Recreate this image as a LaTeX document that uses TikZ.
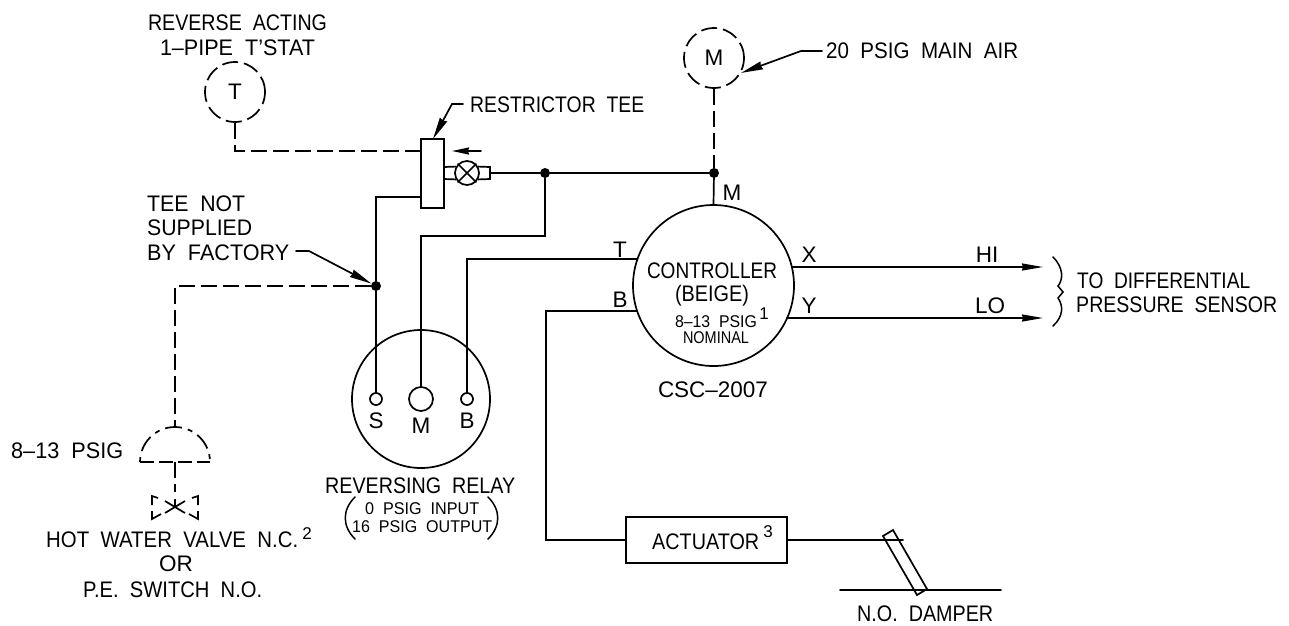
\documentclass[tikz,border=0pt]{standalone}
\usepackage{fontspec}
\usepackage{graphicx}
\setmainfont{Liberation Sans}[WordSpace=2.0]
\usetikzlibrary{arrows.meta}
\newcommand{\fitw}[2]{\resizebox{#1pt}{\height}{#2}}
\tikzset{
 ln/.style={line width=1.7pt,line cap=round,line join=miter},
 dsh/.style={ln,line cap=butt,dash pattern=on 16pt off 6pt},
 ring/.style={circle,draw,line width=1.7pt,inner sep=0pt,minimum size=#1},
 dring/.style={circle,draw,dsh,inner sep=0pt,minimum size=#1},
 dotn/.style={circle,fill=black,inner sep=0pt,minimum size=10pt},
 lbl/.style={anchor=base,inner sep=0pt,font=\fontsize{22.5}{22.5}\selectfont},
 lbll/.style={lbl,anchor=base west},
 sml/.style={lbl,font=\fontsize{17}{17}\selectfont},
 lead/.style={ln,-{Stealth[length=22pt,width=8pt,inset=1pt]}},
}
\begin{document}
\begin{tikzpicture}[x=1pt,y=-1pt]
\useasboundingbox (0,0) rectangle (1289,625);
% main shapes
\node[dring=60pt] (tstat) at (235,92) {};
\node[lbl,anchor=center] (tT) at (235,92) {T};
\node[dring=60pt] (main) at (714,58) {};
\node[lbl,anchor=center] (tM) at (714,58) {M};
\node[draw,ln,minimum width=23pt,minimum height=69pt,inner sep=0pt] (tee) at (432.5,173.5) {};
\node[ring=24pt] (rest) at (467,173) {};
\draw[ln] (rest.45) -- (rest.225) (rest.135) -- (rest.315);
\coordinate (tubeR) at (490,173);
\draw[ln,line cap=butt] (444,167) -- (rest.150) (444,179) -- (rest.210)
   (rest.30) -- (490,167) -- (490,179) -- (rest.330);
\node[ring=161pt] (ctrl) at (713.5,285.5) {};
\node[ring=138pt] (relay) at (421,399) {};
\node[ring=12pt] (pS) at (376,399) {};
\node[ring=24pt] (pM) at (421,399) {};
\node[ring=12pt] (pB) at (467,399) {};
\node[draw,ln,minimum width=161pt,minimum height=46pt,inner sep=0pt] (act) at (706.5,540) {};
\node[dotn] (j1) at (545,173) {};
\node[dotn] (j2) at (714,173) {};
\node[dotn] (j3) at (376,286) {};
% restrictor arrow
\coordinate (fa) at (481,151);
\coordinate (fb) at (452,151);
\draw[ln,-{Stealth[length=17pt,width=7pt,inset=1pt]}] (fa) -- (fb);
% dashed
\coordinate (c1) at (235,151);
\draw[dsh] (tstat.south) -- (c1) -- (tee.west |- c1);
\draw[dsh] (main.south) -- (j2);
\coordinate (dm) at (175,462);
\coordinate (c2) at (175,286);
\draw[dsh] (j3) -- (c2) -- (175,427);
\draw[ln,line cap=butt,dash pattern=on 14pt off 5pt] (140,462) -- (210,462);
\draw[ln,line cap=butt,dash pattern=on 5pt off 6pt on 17pt off 6pt] (140,462) arc (180:0:35 and -35);
\draw[dsh] (dm) -- (175,492);
\draw[ln,line cap=butt] (165,501) -- (185,513) (165,513) -- (185,501) (175,499) -- (175,507);
\draw[ln,line cap=butt] (158,498) -- (152,496) -- (152,505) (152,511) -- (152,519) -- (161,514);
\draw[ln,line cap=butt] (192,498) -- (198,496) -- (198,505) (198,511) -- (198,519) -- (189,514);
% solid lines
\draw[ln] (tubeR) -- (j1) -- (j2);
\draw[ln] (j2) -- (ctrl.north);
\coordinate (c3) at (545,236);
\coordinate (c4) at (421,236);
\draw[ln] (j1) -- (c3) -- (c4) -- (pM.north);
\coordinate (c5) at (376,197);
\draw[ln] (tee.west |- c5) -- (c5) -- (j3) -- (pS.north);
\coordinate (c6) at (467,259);
\coordinate (tIn) at (637.5,259);
\draw[ln] (pB.north) -- (c6) -- (tIn);
\coordinate (bIn) at (637,311);
\coordinate (c7) at (546,311);
\coordinate (c8) at (546,540);
\draw[ln] (bIn) -- (c7) -- (c8) -- (act.west |- c8);
% outputs
\coordinate (hiS) at (792,267);
\coordinate (loS) at (787,318);
\coordinate (hiE) at (1043,267);
\coordinate (loE) at (1043,318);
\draw[ln,-{Stealth[length=21pt,width=7pt,inset=1pt]}] (hiS) -- (hiE);
\draw[ln,-{Stealth[length=21pt,width=7pt,inset=1pt]}] (loS) -- (loE);
\draw[ln,line width=1.5pt] (1053,257) .. controls (1064,268) and (1063,280) .. (1058,286) -- (1063,292) -- (1058,298) .. controls (1063,305) and (1064,316) .. (1053,326);
% damper
\coordinate (dE) at (903,540);
\draw[ln] (act.east |- dE) -- (dE);
\draw[ln,line join=miter] (883,536) -- (893,530) -- (927,589) -- (917,595) -- cycle;
\coordinate (dL) at (840,590);
\coordinate (dR) at (1001,590);
\draw[ln] (dL) -- (dR);
% leaders
\coordinate (l1) at (463,104);
\coordinate (l1b) at (452,104);
\coordinate (l1e) at (433,139);
\draw[lead] (l1) -- (l1b) -- (l1e);
\coordinate (l2) at (822,51);
\coordinate (l2b) at (801,51);
\draw[lead] (l2) -- (l2b) -- (main.-29);
\coordinate (l3) at (296,251);
\coordinate (l3b) at (309,251);
\draw[lead] (l3) -- (l3b) -- (j3);
% labels
\node[lbl] (a1) at (237.5,30) {\fitw{179}{REVERSE ACTING}};
\node[lbl] (a2) at (237.5,55) {\fitw{155}{1–PIPE T'STAT}};
\node[lbll] (a3) at (470,112) {\fitw{174}{RESTRICTOR TEE}};
\node[lbll] (a4) at (826,58) {\fitw{192}{20 PSIG MAIN AIR}};
\node[lbll] (a5) at (147,211) {\fitw{98}{TEE NOT}};
\node[lbll] (a6) at (147,235) {\fitw{105}{SUPPLIED}};
\node[lbll] (a7) at (147,260) {\fitw{142}{BY FACTORY}};
\node[lbl] (a8) at (732,200) {M};
\node[lbl] (a9) at (620,257) {T};
\node[lbl] (a10) at (620,307) {B};
\node[lbl] (a11) at (809,262) {X};
\node[lbl] (a12) at (809,313) {Y};
\node[lbl] (a13) at (987,262) {HI};
\node[lbl] (a14) at (990,313) {LO};
\node[lbl] (a15) at (712,278) {\fitw{130}{CONTROLLER}};
\node[lbl] (a16) at (712,301) {\fitw{74}{(BEIGE)}};
\node[sml] (a17) at (716,327) {\fitw{82}{8–13 PSIG}};
\node[sml] (a17s) at (764,319) {1};
\node[sml] (a18) at (716,343) {\fitw{66}{NOMINAL}};
\node[lbl] (a19) at (713,397) {\fitw{110}{CSC–2007}};
\node[lbll] (a20) at (1077,288) {\fitw{173}{TO DIFFERENTIAL}};
\node[lbll] (a21) at (1076,312) {\fitw{201}{PRESSURE SENSOR}};
\node[lbll] (a22) at (11,458) {\fitw{112}{8–13 PSIG}};
\node[lbll] (a23) at (46,547) {\fitw{252}{HOT WATER VALVE N.C.}};
\node[sml] (a23s) at (307,539) {2};
\node[lbl] (a24) at (176,571) {OR};
\node[lbll] (a25) at (83,597) {\fitw{179}{P.E. SWITCH N.O.}};
\node[lbll] (a26) at (325,493) {\fitw{190}{REVERSING RELAY}};
\node[sml,anchor=base west] (a27) at (365,514) {\fitw{114}{0 PSIG INPUT}};
\node[sml,anchor=base west] (a28) at (352,532) {\fitw{140}{16 PSIG OUTPUT}};
\draw[ln,line width=1.5pt] (355,497) .. controls (342,510) and (342,526) .. (355,539);
\draw[ln,line width=1.5pt] (488,497) .. controls (501,510) and (501,526) .. (488,539);
\node[lbll] (a29) at (652,549) {\fitw{107}{ACTUATOR}};
\node[sml] (a29s) at (768,537) {3};
\node[lbll] (a30) at (857,621) {\fitw{136}{N.O. DAMPER}};
\node[lbl] (a31) at (376,428) {S};
\node[lbl] (a32) at (421,433) {M};
\node[lbl] (a33) at (467,428) {B};
\end{tikzpicture}
\end{document}
